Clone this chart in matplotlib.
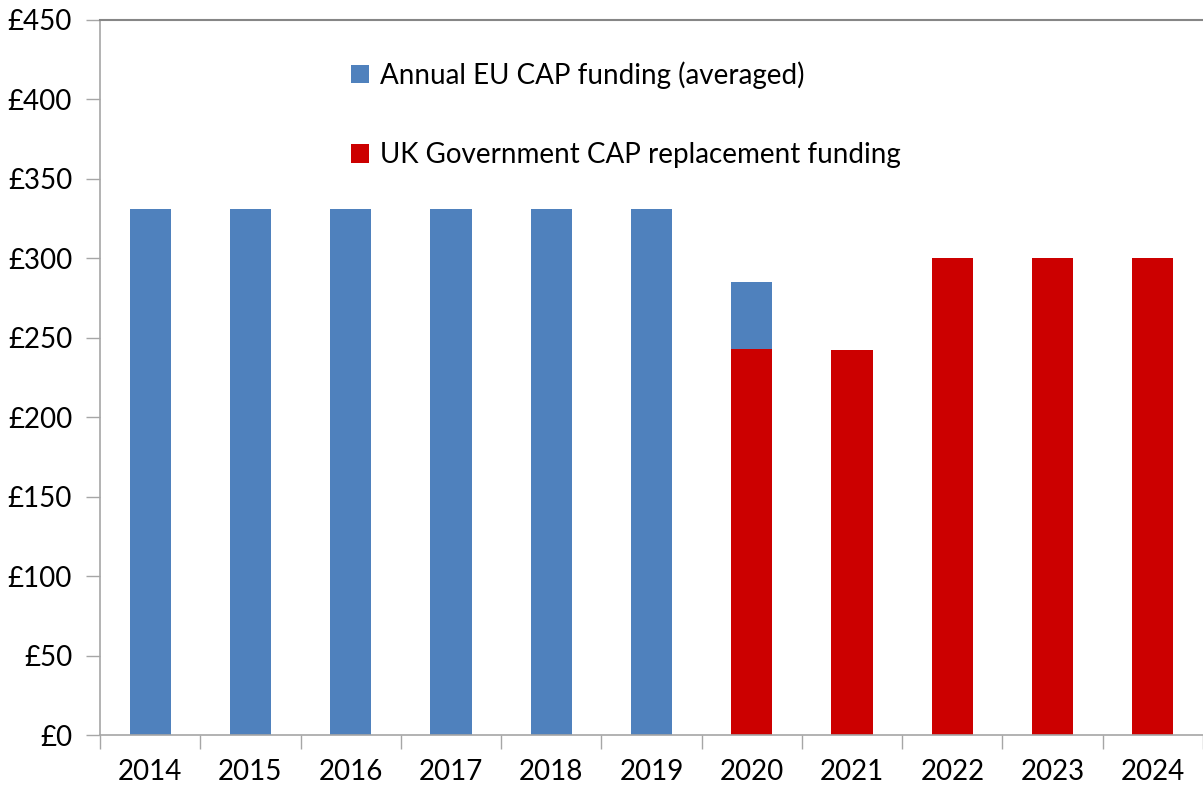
import matplotlib
matplotlib.use("Agg")
import matplotlib.pyplot as plt
from matplotlib.patches import Patch

years = ["2014", "2015", "2016", "2017", "2018", "2019", "2020", "2021", "2022", "2023", "2024"]
uk_funding = [0, 0, 0, 0, 0, 0, 243, 242, 300, 300, 300]
eu_funding = [331, 331, 331, 331, 331, 331, 42, 0, 0, 0, 0]
y_ticks = [0, 50, 100, 150, 200, 250, 300, 350, 400, 450]

blue = "#4F81BD"
red = "#CC0000"

plt.rcParams['font.family'] = ['Lato', 'DejaVu Sans']

fig = plt.figure(figsize=(12.03, 7.89), dpi=100)
ax = fig.add_axes([100/1203, 1 - 735/789, 1103/1203, 715/789])

x = list(range(len(years)))
ax.bar(x, uk_funding, width=0.41, color=red, edgecolor="none")
ax.bar(x, eu_funding, width=0.41, bottom=uk_funding, color=blue, edgecolor="none")

ax.set_xlim(-0.5, len(years) - 0.5)
ax.set_ylim(0, 450)
ax.set_yticks(y_ticks)
ax.set_yticklabels([f"£{v}" for v in y_ticks])
ax.set_xticks(x)
ax.set_xticklabels(years)
ax.set_xticks([i - 0.5 for i in range(len(years) + 1)], minor=True)

ax.tick_params(axis='x', which='major', length=0, pad=17, labelsize=20)
ax.tick_params(axis='x', which='minor', length=10, color="#A6A6A6", width=1)
ax.tick_params(axis='y', length=10, color="#A6A6A6", width=1, pad=10, labelsize=20)

for s in ["left", "bottom"]:
    ax.spines[s].set_color("#A6A6A6")
    ax.spines[s].set_linewidth(1.2)
ax.spines["right"].set_visible(False)
ax.spines["top"].set_color("#868686")
ax.spines["top"].set_linewidth(1.5)

handles = [Patch(facecolor=blue, label="Annual EU CAP funding (averaged)"),
           Patch(facecolor=red, label="UK Government CAP replacement funding")]
leg = ax.legend(handles=handles, loc="upper left", bbox_to_anchor=(240/1103, 0.958),
                frameon=False, fontsize=20, handlelength=0.65, handleheight=0.65,
                handletextpad=0.4, labelspacing=1.92, borderaxespad=0)

fig.savefig("out.png", dpi=100)
